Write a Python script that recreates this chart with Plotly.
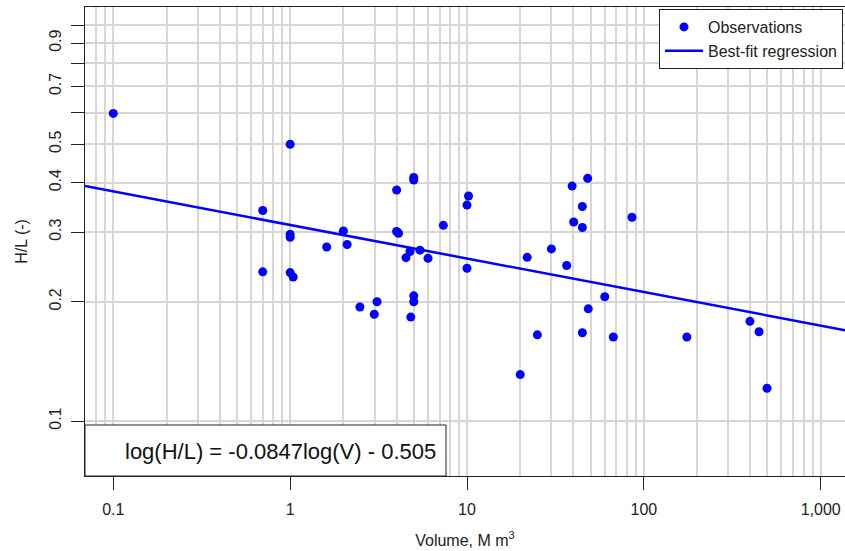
import plotly.graph_objects as go
import numpy as np

# Observations (Volume in M m^3, H/L ratio)
volume = [0.1, 0.70, 0.70, 1.0, 1.0, 1.0, 1.0, 1.04, 1.61, 2.0, 2.1, 2.48, 3.1, 2.99,
          4.0, 4.0, 4.1, 5.0, 5.0, 4.76, 4.52, 5.42, 6.02, 5.0, 5.0, 4.81, 7.35,
          10.0, 10.2, 10.0, 21.9, 20.0, 25.0, 30.0, 36.6, 39.3, 48.1, 44.9, 40.1,
          44.9, 85.7, 60.1, 48.5, 44.9, 67.2, 175.0, 398.0, 448.0, 497.0]
hl_ratio = [0.598, 0.340, 0.238, 0.500, 0.296, 0.291, 0.237, 0.231, 0.275, 0.302, 0.279,
            0.194, 0.200, 0.186, 0.383, 0.301, 0.298, 0.412, 0.406, 0.268, 0.2585, 0.270,
            0.2575, 0.207, 0.200, 0.183, 0.312, 0.351, 0.370, 0.243, 0.259, 0.131, 0.165,
            0.272, 0.247, 0.392, 0.410, 0.348, 0.318, 0.308, 0.327, 0.206, 0.192, 0.167,
            0.163, 0.163, 0.1785, 0.168, 0.121]

# Regression coefficients: log(H/L) = slope*log(V) + intercept
slope = -0.0847
intercept = -0.505

x_ticks = [0.1, 1, 10, 100, 1000]
x_ticktext = ["0.1", "1", "10", "100", "1,000"]
x_minor = [m * 10.0 ** k for k in range(-2, 4) for m in range(2, 10)]
y_ticks = [0.1, 0.2, 0.3, 0.4, 0.5, 0.7, 0.9]
y_ticktext = ["0.1", "0.2", "0.3", "0.4", "0.5", "0.7", "0.9"]
y_minor = [0.6, 0.8, 1.0]

x_range = [-1.16, 3.1374]
y_range = [-1.1389, 0.04545]

fit_x = [10 ** x_range[0], 10 ** x_range[1]]
fit_y = [10 ** (slope * np.log10(v) + intercept) for v in fit_x]

FONT = "Liberation Sans, Arial, sans-serif"
GRID = "#d6d6d6"
INK = "#222222"

fig = go.Figure()
fig.add_trace(go.Scatter(x=volume, y=hl_ratio, mode="markers", name="Observations",
                         marker=dict(color="#0000ff", size=9)))
fig.add_trace(go.Scatter(x=fit_x, y=fit_y, mode="lines", name="Best-fit regression",
                         line=dict(color="#0000ff", width=2.5)))

fig.update_layout(
    width=845, height=551,
    margin=dict(l=85, r=0, t=7, b=75, autoexpand=False),
    paper_bgcolor="white", plot_bgcolor="white",
    font=dict(family=FONT, color=INK, size=16),
    showlegend=True,
    legend=dict(x=(659 - 85) / 760, y=(476 - 9) / 469, xanchor="left", yanchor="top",
                bgcolor="white", bordercolor=INK, borderwidth=1, itemwidth=38,
                font=dict(size=16, color=INK), tracegroupgap=0),
    xaxis=dict(type="log", range=x_range, tickmode="array", tickvals=x_ticks,
               ticktext=x_ticktext, ticks="outside", ticklen=13, tickcolor=INK,
               showgrid=True, gridcolor=GRID, gridwidth=1.5,
               showline=True, linecolor=INK, linewidth=1, mirror=True,
               minor=dict(tickmode="array", tickvals=x_minor, showgrid=True,
                          gridcolor=GRID, gridwidth=1.5, ticks=""),
               tickfont=dict(size=16), ticklabelstandoff=6,
               title=dict(text="Volume, M m<sup>3</sup>", font=dict(size=16), standoff=17),
               zeroline=False),
    yaxis=dict(type="log", range=y_range, tickmode="array", tickvals=y_ticks,
               ticktext=y_ticktext, ticks="outside", ticklen=13, tickcolor=INK,
               tickangle=-90, showgrid=True, gridcolor=GRID, gridwidth=1.5,
               showline=True, linecolor=INK, linewidth=1, mirror=False,
               minor=dict(tickmode="array", tickvals=y_minor, showgrid=True,
                          gridcolor=GRID, gridwidth=1.5, ticks="outside",
                          ticklen=13, tickcolor=INK),
               tickfont=dict(size=16), ticklabelstandoff=4,
               title=dict(text="H/L (-)", font=dict(size=16), standoff=14),
               zeroline=False),
)

# Equation box at bottom-left
fig.add_shape(type="rect", xref="paper", yref="paper", x0=0, x1=(446 - 85) / 760,
              y0=0, y1=(476 - 425) / 469, fillcolor="white",
              line=dict(color=INK, width=1), layer="above")
fig.add_annotation(xref="paper", yref="paper", x=(280 - 85) / 760, y=(476 - 451) / 469,
                   text="log(H/L) = -0.0847log(V) - 0.505", showarrow=False,
                   font=dict(size=22, color="#111111"), xanchor="center", yanchor="middle")

fig.write_html("out.html", config={"displayModeBar": False},
               post_script="document.body.style.margin='0';")
